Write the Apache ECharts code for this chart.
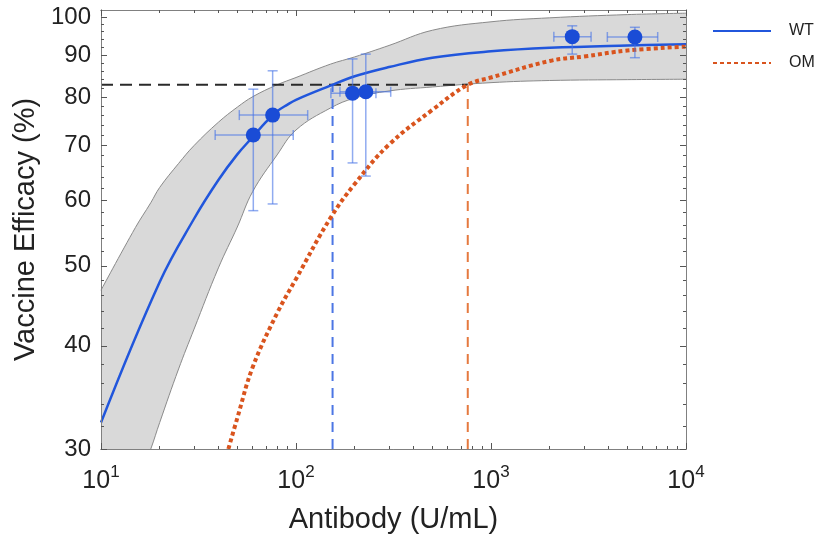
<!DOCTYPE html>
<html>
<head>
<meta charset="utf-8">
<title>Vaccine efficacy vs antibody</title>
<script src="https://cdn.jsdelivr.net/npm/echarts@6/dist/echarts.min.js"></script>
<style>
  html, body { margin: 0; padding: 0; background: #fff; }
  #chart { width: 818px; height: 535px; }
</style>
</head>
<body>
<div id="chart"></div>
<script>
// WT fitted curve
var wtX = [10, 20, 30, 40, 50, 60, 70, 80, 90, 100, 150, 200, 300, 500, 1000, 2000, 5000, 10000];
var wtY = [32.3, 47.8, 57.0, 63.5, 68.2, 71.6, 74.6, 76.9, 78.3, 79.4, 82.6, 84.8, 87.0, 89.3, 90.9, 91.8, 92.4, 92.7];

// OM curve
var omX = [45, 50, 60, 80, 100, 150, 200, 300, 500, 760, 1000, 2000, 3000, 5000, 10000];
var omY = [30.0, 32.7, 37.7, 43.8, 48.2, 57.1, 62.8, 70.1, 77.2, 82.8, 84.5, 88.5, 89.6, 91.1, 92.1];

// grey confidence band of the WT fit (lower edge runs below 30 at the left)
var bandX = [10, 15, 18, 20, 25, 30, 40, 50, 60, 80, 100, 150, 200, 300, 500, 1000, 2000, 5000, 10000];
var bandUp = [46.7, 55.6, 59.6, 62.2, 66.5, 69.9, 74.6, 77.8, 80.1, 82.8, 84.5, 87.7, 89.5, 92.4, 96.4, 98.7, 99.8, 100.7, 101.1];
var bandLo = [20.5, 26.8, 30.0, 32.3, 37.5, 41.9, 49.7, 55.7, 61.5, 68.1, 73.0, 77.6, 79.8, 81.4, 82.3, 83.3, 83.8, 84.0, 84.1];

// measured points with error bars
var ptX = [60.4, 75.9, 195, 228, 2610, 5470];
var ptY = [72.0, 76.1, 80.9, 81.2, 94.7, 94.6];
var ptXLow = [38.5, 51.2, 151, 168, 2100, 3950];
var ptXHigh = [96.8, 114.8, 257, 306, 3260, 7160];
var ptYLow = [58.3, 59.4, 66.6, 64.2, 90.2, 89.3];
var ptYHigh = [81.8, 86.1, 89.0, 90.2, 97.6, 97.2];

// threshold (dashed guides)
var targetVE = 82.8;
var wtThreshold = 154;
var omThreshold = 760;

// tick values
var xMajor = [10, 100, 1000, 10000];
var xMinor = [20, 30, 40, 50, 60, 70, 80, 90, 200, 300, 400, 500, 600, 700, 800, 900, 2000, 3000, 4000, 5000, 6000, 7000, 8000, 9000];
var yMajor = [30, 40, 50, 60, 70, 80, 90, 100];
var yMinor = [32, 34, 36, 38, 42, 44, 46, 48, 52, 54, 56, 58, 62, 64, 66, 68, 72, 74, 76, 78, 82, 84, 86, 88, 92, 94, 96, 98];

var chart = echarts.init(document.getElementById('chart'));

var frameColor = '#808080';
var font = "'Liberation Sans', Arial, Helvetica, sans-serif";

function zip(xs, ys) {
  return xs.map(function (x, i) { return [x, ys[i]]; });
}

// box sides: ticks only, pointing inward, drawn above the grey band
function sideX(pos, ticks, len) {
  return {
    type: 'log', logBase: 10, min: 10, max: 10000, position: pos, z: 10,
    axisLine: { show: true, onZero: false, lineStyle: { color: frameColor, width: 1 } },
    axisTick: { show: true, inside: true, length: len, customValues: ticks, lineStyle: { color: '#555', width: 1 } },
    axisLabel: { show: false },
    splitLine: { show: false }
  };
}
function sideY(pos, ticks, len) {
  return {
    type: 'log', logBase: 10, min: 30, max: 102, position: pos, z: 10,
    axisLine: { show: true, onZero: false, lineStyle: { color: frameColor, width: 1 } },
    axisTick: { show: true, inside: true, length: len, customValues: ticks, lineStyle: { color: '#555', width: 1 } },
    axisLabel: { show: false },
    splitLine: { show: false }
  };
}

var xMain = sideX('bottom', xMajor, 6);
xMain.axisLabel = {
  show: true,
  margin: 15,
  customValues: xMajor,
  formatter: function (v) {
    return '{b|10}{s|' + Math.round(Math.log10(v)) + '}';
  },
  rich: {
    b: { fontSize: 25, color: '#222', fontFamily: font },
    s: { fontSize: 17, color: '#222', fontFamily: font, padding: [0, 0, 18, 0] }
  }
};
xMain.name = 'Antibody (U/mL)';
xMain.nameLocation = 'middle';
xMain.nameGap = 56;
xMain.nameTextStyle = { fontSize: 29, color: '#222', fontFamily: font };

var yMain = sideY('left', yMajor, 6);
yMain.axisLabel = {
  show: true,
  margin: 10,
  customValues: yMajor,
  fontSize: 24,
  color: '#222',
  fontFamily: font
};
yMain.name = 'Vaccine Efficacy (%)';
yMain.nameLocation = 'middle';
yMain.nameGap = 56;
yMain.nameTextStyle = { fontSize: 29, color: '#222', fontFamily: font };

function renderErr(params, api) {
  var x = api.value(0), y = api.value(1);
  var l = api.coord([api.value(2), y]);
  var r = api.coord([api.value(3), y]);
  var b = api.coord([x, api.value(4)]);
  var t = api.coord([x, api.value(5)]);
  var st = { stroke: 'rgba(70,115,230,0.6)', lineWidth: 1.5 };
  var cap = 5;
  function seg(x1, y1, x2, y2) {
    return { type: 'line', shape: { x1: x1, y1: y1, x2: x2, y2: y2 }, style: st };
  }
  return {
    type: 'group',
    children: [
      seg(l[0], l[1], r[0], r[1]),
      seg(l[0], l[1] - cap, l[0], l[1] + cap),
      seg(r[0], r[1] - cap, r[0], r[1] + cap),
      seg(b[0], b[1], t[0], t[1]),
      seg(b[0] - cap, b[1], b[0] + cap, b[1]),
      seg(t[0] - cap, t[1], t[0] + cap, t[1])
    ]
  };
}

var errData = ptX.map(function (x, i) {
  return [x, ptY[i], ptXLow[i], ptXHigh[i], ptYLow[i], ptYHigh[i]];
});

chart.setOption({
  animation: false,
  backgroundColor: '#fff',
  grid: { left: 101, right: 132, top: 10, bottom: 86, outerBoundsMode: 'none' },
  legend: {
    data: ['WT', 'OM'],
    orient: 'vertical',
    left: 712,
    top: 23,
    padding: 0,
    itemWidth: 58,
    itemHeight: 14,
    itemGap: 16,
    itemStyle: { opacity: 0 },
    textStyle: { fontSize: 16, color: '#222', fontFamily: font, padding: [0, 0, 0, 13] }
  },
  xAxis: [
    xMain,
    sideX('bottom', xMinor, 3),
    sideX('top', xMajor, 6),
    sideX('top', xMinor, 3)
  ],
  yAxis: [
    yMain,
    sideY('left', yMinor, 3),
    sideY('right', yMajor, 6),
    sideY('right', yMinor, 3)
  ],
  series: [
    {
      // grey fill from the upper edge down
      name: 'bandHigh',
      type: 'line',
      data: zip(bandX, bandUp),
      symbol: 'none',
      smooth: 0.4,
      lineStyle: { color: '#8a8a8a', width: 1 },
      areaStyle: { color: '#d9d9d9', opacity: 1, origin: 'start' },
      silent: true,
      z: 1
    },
    {
      // white fill below the lower edge leaves only the band grey
      name: 'bandLow',
      type: 'line',
      data: zip(bandX, bandLo),
      symbol: 'none',
      smooth: 0.4,
      lineStyle: { color: '#8a8a8a', width: 1 },
      areaStyle: { color: '#ffffff', opacity: 1, origin: 'start' },
      silent: true,
      z: 1.5
    },
    {
      name: 'guide',
      type: 'line',
      data: [[10, targetVE], [omThreshold, targetVE]],
      symbol: 'none',
      lineStyle: { color: '#2a2a2a', width: 2, type: [12, 7] },
      silent: true,
      z: 3
    },
    {
      name: 'wtGuide',
      type: 'line',
      data: [[wtThreshold, 30], [wtThreshold, targetVE]],
      symbol: 'none',
      lineStyle: { color: '#4c76e4', width: 2, type: [10, 7] },
      silent: true,
      z: 3
    },
    {
      name: 'omGuide',
      type: 'line',
      data: [[omThreshold, 30], [omThreshold, targetVE]],
      symbol: 'none',
      lineStyle: { color: '#e5793f', width: 2, type: [10, 7] },
      silent: true,
      z: 3
    },
    {
      name: 'WT',
      type: 'line',
      data: zip(wtX, wtY),
      symbol: 'none',
      smooth: 0.4,
      lineStyle: { color: '#2156dc', width: 2.5 },
      itemStyle: { color: '#2156dc' },
      z: 4
    },
    {
      name: 'OM',
      type: 'line',
      data: zip(omX, omY),
      symbol: 'none',
      smooth: 0.4,
      lineStyle: { color: '#d9541e', width: 4, type: [4, 3] },
      itemStyle: { color: '#d9541e' },
      z: 4
    },
    {
      type: 'custom',
      name: 'err',
      renderItem: renderErr,
      data: errData,
      encode: { x: 0, y: 1 },
      z: 5
    },
    {
      name: 'points',
      type: 'scatter',
      data: zip(ptX, ptY),
      symbolSize: 15,
      itemStyle: { color: '#1a4cd6', opacity: 1 },
      z: 6
    }
  ]
});
</script>
</body>
</html>
